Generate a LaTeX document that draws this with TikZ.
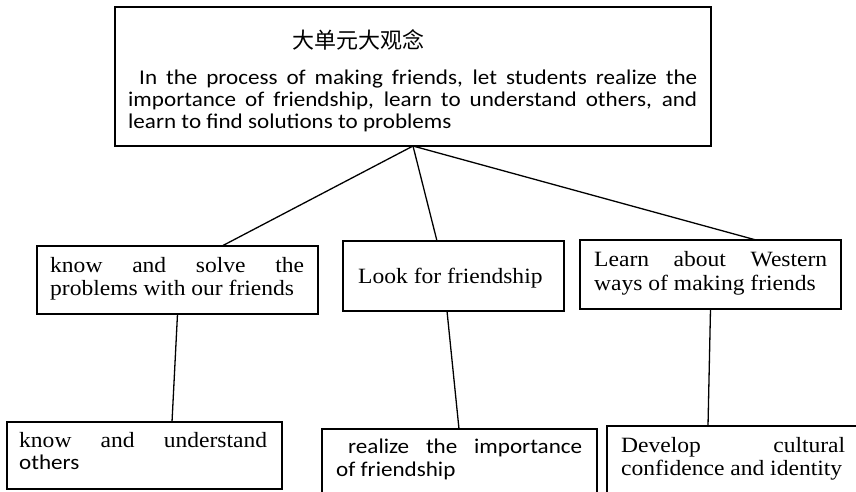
\documentclass[tikz,border=0pt]{standalone}
\usepackage{fontspec}
\newfontfamily\calfont[FakeStretch=1.1]{Carlito}
\newfontfamily\tmsfont[FakeStretch=1.08]{Liberation Serif}
\newfontfamily\cjkfont{Noto Sans CJK SC}
\begin{document}
\begin{tikzpicture}[x=1pt,y=-1pt,
  box/.style={draw=black, line width=1.3pt, inner sep=0pt, outer sep=0pt, anchor=north west},
  conn/.style={draw=black, line width=1.3pt},
  txt/.style={inner sep=0pt, anchor=base west},
  caltxt/.style={txt, font=\calfont\fontsize{21}{22}\selectfont},
  tmstxt/.style={txt, font=\tmsfont\fontsize{21.8}{23}\selectfont}]
\useasboundingbox (0,0) rectangle (856,491);
\clip (0,0) rectangle (856,491);
\fill[white] (0,0) rectangle (856,491);
% boxes
\node[box, minimum width=596pt, minimum height=139pt] (top) at (115,7) {};
\node[box, minimum width=281pt, minimum height=68pt] (b1) at (37,246) {};
\node[box, minimum width=221pt, minimum height=70pt] (b2) at (343,241) {};
\node[box, minimum width=261pt, minimum height=69pt] (b3) at (580,240) {};
\node[box, minimum width=275pt, minimum height=67pt] (b4) at (7,422) {};
\node[box, minimum width=275pt, minimum height=80pt] (b5) at (322,429) {};
\node[box, minimum width=270pt, minimum height=80pt] (b6) at (607,426) {};
% texts
\node[txt, font=\cjkfont\fontsize{22}{24}\selectfont] (title) at (292,48) {大单元大观念};
\node[caltxt] (t1) at (139,84) {\makebox[558pt][s]{In the process of making friends, let students realize the}};
\node[caltxt] (t2) at (128,106) {\makebox[569pt][s]{importance of friendship, learn to understand others, and}};
\node[caltxt] (t3) at (128,128) {learn to find solutions to problems};
\node[tmstxt] (a1) at (50,272) {\makebox[254pt][s]{know and solve the}};
\node[tmstxt] (a2) at (50,295) {problems with our friends};
\node[tmstxt] (c1) at (358,283) {Look for friendship};
\node[tmstxt] (d1) at (594,266) {\makebox[233pt][s]{Learn about Western}};
\node[tmstxt] (d2) at (594,290) {ways of making friends};
\node[tmstxt] (e1) at (19,447) {\makebox[248pt][s]{know and understand}};
\node[caltxt] (e2) at (19,469) {others};
\node[caltxt] (f1) at (348,453) {\makebox[234pt][s]{realize the importance}};
\node[caltxt] (f2) at (336,476) {of friendship};
\node[tmstxt] (g1) at (621,452) {\makebox[224pt][s]{Develop cultural}};
\node[tmstxt] (g2) at (621,475) {confidence and identity};
% connector end points
\coordinate (b1top) at (222,246);
\coordinate (b2top) at (437,241);
\coordinate (b3top) at (756,240);
\coordinate (b2bot) at (447,311);
\coordinate (b4top) at (172,422);
\coordinate (b5top) at (459,429);
\coordinate (b6top) at (708,426);
% connectors
\draw[conn] (top.south) -- (b1top);
\draw[conn] (top.south) -- (b2top);
\draw[conn] (top.south) -- (b3top);
\draw[conn] (b1.south) -- (b4top);
\draw[conn] (b2bot) -- (b5top);
\draw[conn] (b3.south) -- (b6top);
\end{tikzpicture}
\end{document}
